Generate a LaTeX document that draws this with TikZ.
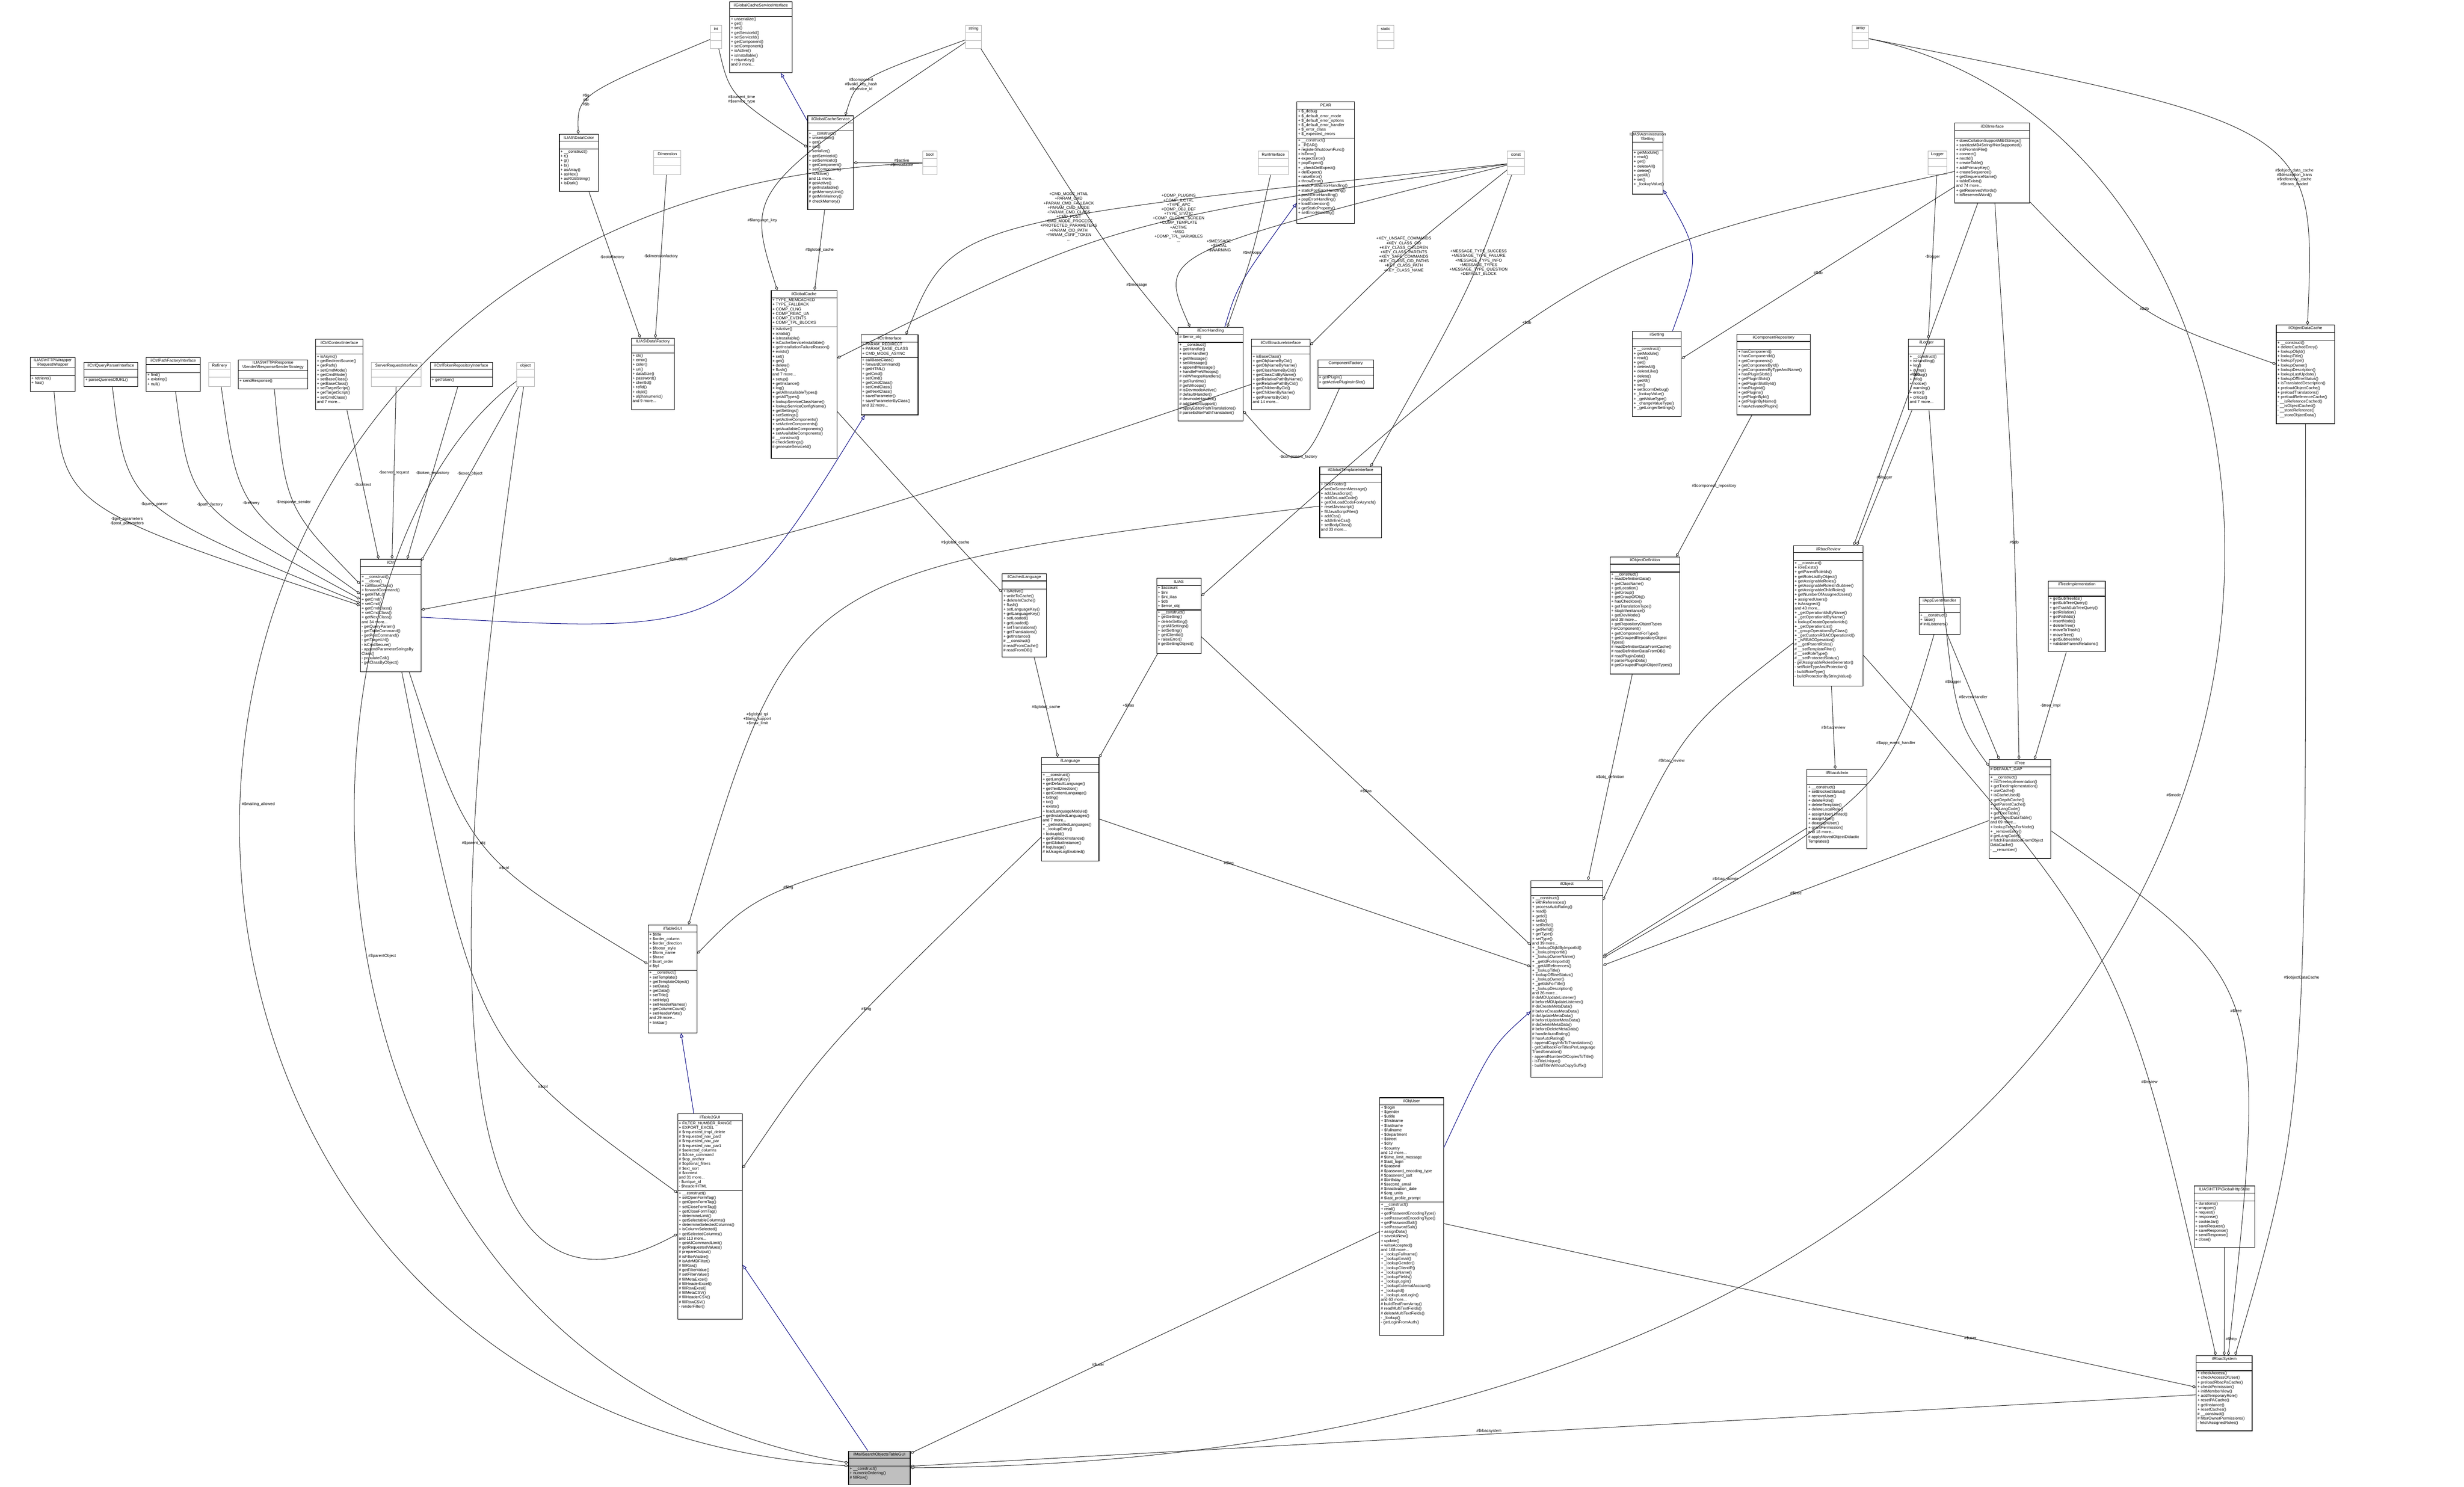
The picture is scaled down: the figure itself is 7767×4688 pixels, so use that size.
\documentclass[tikz,border=0pt]{standalone}
\usepackage{fontspec}
\setmainfont{Liberation Sans}
\usetikzlibrary{arrows.meta,fit,calc}

\tikzset{
  umlfont/.style={font=\fontsize{3.6}{4.06}\selectfont},
  clsbox/.style={draw=black,fill=white,inner sep=0pt,line width=0.5pt},
  clsbox sep/.style={draw=black,line width=0.5pt},
  typebox/.style={draw=gray!60,fill=white,inner sep=0pt,line width=0.4pt},
  typebox sep/.style={draw=gray!60,line width=0.4pt},
  mainbox/.style={draw=black,fill=gray!50,inner sep=0pt,line width=0.6pt},
  mainbox sep/.style={draw=black,line width=0.6pt},
  clstitle/.style={umlfont,align=center,inner sep=0.03cm,minimum height=0.22cm},
  clstext/.style={umlfont,align=left,inner sep=0pt},
  agg/.style={draw=black!85,line width=0.45pt,-{Diamond[open,length=4pt,width=2.6pt]}},
  inh/.style={draw=blue!50!black,line width=0.45pt,-{Triangle[open,length=4pt,width=3pt]}},
  elbl/.style={umlfont,align=center,inner sep=1pt}
}

% class box: [style] name, corner, corner, title, attribute rows, attributes, methods
\newcommand{\umlcls}[8][clsbox]{%
  \node[#1, fit={#3 #4}] (#2) {};
  \node[clstitle, anchor=north] (#2-t) at (#2.north) {#5};
  \draw[#1 sep] (#2-t.south -| #2.west) -- (#2-t.south -| #2.east);
  \node[clstext, anchor=north west] at ([xshift=0.04cm,yshift=-0.02cm]#2-t.south -| #2.west) {#7};
  \pgfmathsetmacro\clsgap{max(#6*0.143+0.06,0.25)}
  \draw[#1 sep] ([yshift=-\clsgap cm]#2-t.south -| #2.west) -- ([yshift=-\clsgap cm]#2-t.south -| #2.east);
  \node[clstext, anchor=north west] at ([xshift=0.04cm,yshift=-\clsgap cm-0.02cm]#2-t.south -| #2.west) {#8};
}

\begin{document}
\catcode`\_=12
\begin{tikzpicture}[x=0.01cm,y=-0.01cm]
\useasboundingbox[fill=white] (0,0) rectangle (7767,4688);

% plain types
\umlcls[typebox]{int}{(2239,80)}{(2275,153)}{int}{0}{}{}
\umlcls[typebox]{string}{(3043,80)}{(3094,153)}{string}{0}{}{}
\umlcls[typebox]{static}{(4341,80)}{(4394,153)}{static}{0}{}{}
\umlcls[typebox]{array}{(5839,80)}{(5890,153)}{array}{0}{}{}
\umlcls[typebox]{bool}{(2908,476)}{(2953,551)}{bool}{0}{}{}
\umlcls[typebox]{runiface}{(3966,476)}{(4061,551)}{RunInterface}{0}{}{}
\umlcls[typebox]{const}{(4751,476)}{(4806,551)}{const}{0}{}{}
\umlcls[typebox]{logger}{(6077,476)}{(6137,551)}{Logger}{0}{}{}
\umlcls[typebox]{dimension}{(2061,474)}{(2146,551)}{Dimension}{0}{}{}
\umlcls[typebox]{refinery}{(658,1142)}{(726,1219)}{Refinery}{0}{}{}
\umlcls[typebox]{srvrequest}{(1171,1142)}{(1328,1219)}{ServerRequestInterface}{0}{}{}
\umlcls[typebox]{object}{(1628,1142)}{(1685,1219)}{object}{0}{}{}

% top row classes
\umlcls{cachesrvif}{(2300,5)}{(2497,229)}{ilGlobalCacheServiceInterface}{0}{}{+ unserialize()\\+ get()\\+ set()\\+ getServiceId()\\+ setServiceId()\\+ getComponent()\\+ setComponent()\\+ isActive()\\+ isInstallable()\\+ returnKey()\\and 9 more...}
\umlcls{cachesrv}{(2546,365)}{(2690,661)}{ilGlobalCacheService}{0}{}{+ __construct()\\+ unserialize()\\+ get()\\+ set()\\+ serialize()\\+ getServiceId()\\+ setServiceId()\\+ getComponent()\\+ setComponent()\\+ isActive()\\and 11 more...\\\# getActive()\\\# getInstallable()\\\# getMemoryLimit()\\\# getMinMemory()\\\# checkMemory()}
\umlcls{color}{(1763,423)}{(1886,604)}{ILIAS\textbackslash Data\textbackslash Color}{0}{}{+ __construct()\\+ r()\\+ g()\\+ b()\\+ asArray()\\+ asHex()\\+ asRGBString()\\+ isDark()}
\umlcls{pear}{(4088,321)}{(4270,704)}{PEAR}{6}{+ \$_debug\\+ \$_default_error_mode\\+ \$_default_error_options\\+ \$_default_error_handler\\+ \$_error_class\\+ \$_expected_errors}{+ __construct()\\+ _PEAR()\\+ registerShutdownFunc()\\+ isError()\\+ expectError()\\+ popExpect()\\+ _checkDelExpect()\\+ delExpect()\\+ raiseError()\\+ throwError()\\+ staticPushErrorHandling()\\+ staticPopErrorHandling()\\+ pushErrorHandling()\\+ popErrorHandling()\\+ loadExtension()\\+ getStaticProperty()\\+ setErrorHandling()}
\umlcls{admsetting}{(5146,416)}{(5242,612)}{ILIAS\textbackslash Administration\\\textbackslash Setting}{0}{}{+ getModule()\\+ read()\\+ get()\\+ deleteAll()\\+ delete()\\+ getAll()\\+ set()\\+ _lookupValue()}
\umlcls{dbiface}{(6162,388)}{(6398,640)}{ilDBInterface}{0}{}{+ doesCollationSupportMB4Strings()\\+ sanitizeMB4StringIfNotSupported()\\+ initFromIniFile()\\+ connect()\\+ nextId()\\+ createTable()\\+ addPrimaryKey()\\+ createSequence()\\+ getSequenceName()\\+ tableExists()\\and 74 more...\\+ getReservedWords()\\+ isReservedWord()}

% second row classes
\umlcls{reqwrapper}{(95,1127)}{(237,1234)}{ILIAS\textbackslash HTTP\textbackslash Wrapper\\\textbackslash RequestWrapper}{0}{}{+ retrieve()\\+ has()}
\umlcls{queryparser}{(265,1142)}{(434,1219)}{ilCtrlQueryParserInterface}{0}{}{+ parseQueriesOfURL()}
\umlcls{pathfactory}{(461,1127)}{(632,1234)}{ilCtrlPathFactoryInterface}{0}{}{+ find()\\+ existing()\\+ null()}
\umlcls{respsender}{(751,1135)}{(970,1226)}{ILIAS\textbackslash HTTP\textbackslash Response\\\textbackslash Sender\textbackslash ResponseSenderStrategy}{0}{}{+ sendResponse()}
\umlcls{ctrlcontext}{(995,1069)}{(1144,1292)}{ilCtrlContextInterface}{0}{}{+ isAsync()\\+ getRedirectSource()\\+ getPath()\\+ setCmdMode()\\+ getCmdMode()\\+ setBaseClass()\\+ getBaseClass()\\+ setTargetScript()\\+ getTargetScript()\\+ setCmdClass()\\and 7 more...}
\umlcls{tokenrepo}{(1357,1142)}{(1552,1219)}{ilCtrlTokenRepositoryInterface}{0}{}{+ getToken()}
\umlcls{datafactory}{(1990,1066)}{(2126,1292)}{ILIAS\textbackslash Data\textbackslash Factory}{0}{}{+ ok()\\+ error()\\+ color()\\+ uri()\\+ dataSize()\\+ password()\\+ clientId()\\+ refId()\\+ objId()\\+ alphanumeric()\\and 9 more...}
\umlcls{globalcache}{(2431,916)}{(2638,1446)}{ilGlobalCache}{6}{+ TYPE_MEMCACHED\\+ TYPE_FALLBACK\\+ COMP_CLNG\\+ COMP_RBAC_UA\\+ COMP_EVENTS\\+ COMP_TPL_BLOCKS}{+ isActive()\\+ isValid()\\+ isInstallable()\\+ isCacheServiceInstallable()\\+ getInstallationFailureReason()\\+ exists()\\+ set()\\+ get()\\+ delete()\\+ flush()\\and 7 more...\\+ setup()\\+ getInstance()\\+ log()\\+ getAllInstallableTypes()\\+ getAllTypes()\\+ lookupServiceClassName()\\+ lookupServiceConfigName()\\+ getSettings()\\+ setSettings()\\+ getActiveComponents()\\+ setActiveComponents()\\+ getAvailableComponents()\\+ setAvailableComponents()\\\# __construct()\\\# checkSettings()\\\# generateServiceId()}
\umlcls{ctrliface}{(2714,1056)}{(2894,1308)}{ilCtrlInterface}{3}{+ PARAM_REDIRECT\\+ PARAM_BASE_CLASS\\+ CMD_MODE_ASYNC}{+ callBaseClass()\\+ forwardCommand()\\+ getHTML()\\+ getCmd()\\+ setCmd()\\+ getCmdClass()\\+ setCmdClass()\\+ getNextClass()\\+ saveParameter()\\+ saveParameterByClass()\\and 32 more...}
\umlcls{errhandling}{(3714,1032)}{(3918,1328)}{ilErrorHandling}{1}{\# \$error_obj}{+ __construct()\\+ getHandler()\\+ errorHandler()\\+ getMessage()\\+ setMessage()\\+ appendMessage()\\+ handlePreWhoops()\\\# initWhoopsHandlers()\\\# getRuntime()\\\# getWhoops()\\\# isDevmodeActive()\\\# defaultHandler()\\\# devmodeHandler()\\\# addEditorSupport()\\\# applyEditorPathTranslations()\\\# parseEditorPathTranslation()}
\umlcls{ctrlstruct}{(3945,1069)}{(4129,1292)}{ilCtrlStructureInterface}{0}{}{+ isBaseClass()\\+ getObjNameByCid()\\+ getObjNameByName()\\+ getClassNameByCid()\\+ getClassCidByName()\\+ getRelativePathByName()\\+ getRelativePathByCid()\\+ getChildrenByCid()\\+ getChildrenByName()\\+ getParentsByCid()\\and 14 more...}
\umlcls{compfactory}{(4154,1135)}{(4330,1224)}{ComponentFactory}{0}{}{+ getPlugin()\\+ getActivePluginsInSlot()}
\umlcls{setting}{(5146,1045)}{(5300,1314)}{ilSetting}{0}{}{+ __construct()\\+ getModule()\\+ read()\\+ get()\\+ deleteAll()\\+ deleteLike()\\+ delete()\\+ getAll()\\+ set()\\+ setScormDebug()\\+ _lookupValue()\\+ _getValueType()\\+ _changeValueType()\\+ _getLongerSettings()}
\umlcls{comprepo}{(5475,1054)}{(5706,1308)}{ilComponentRepository}{0}{}{+ hasComponent()\\+ hasComponentId()\\+ getComponents()\\+ getComponentById()\\+ getComponentByTypeAndName()\\+ hasPluginSlotId()\\+ getPluginSlots()\\+ getPluginSlotById()\\+ hasPluginId()\\+ getPlugins()\\+ getPluginById()\\+ getPluginByName()\\+ hasActivatedPlugin()}
\umlcls{illogger}{(6016,1069)}{(6129,1292)}{ilLogger}{0}{}{+ __construct()\\+ isHandling()\\+ log()\\+ dump()\\+ debug()\\+ info()\\+ notice()\\+ warning()\\+ error()\\+ critical()\\and 7 more...}
\umlcls{objdatacache}{(7175,1025)}{(7359,1336)}{ilObjectDataCache}{0}{}{+ __construct()\\+ deleteCachedEntry()\\+ lookupObjId()\\+ lookupTitle()\\+ lookupType()\\+ lookupOwner()\\+ lookupDescription()\\+ lookupLastUpdate()\\+ lookupOfflineStatus()\\+ isTranslatedDescription()\\+ preloadObjectCache()\\+ preloadTranslations()\\+ preloadReferenceCache()\\- __isReferenceCached()\\- __isObjectCached()\\- __storeReference()\\- __storeObjectData()}
\umlcls{tpliface}{(4160,1472)}{(4355,1695)}{ilGlobalTemplateInterface}{0}{}{+ hideFooter()\\+ setOnScreenMessage()\\+ addJavaScript()\\+ addOnLoadCode()\\+ getOnLoadCodeForAsynch()\\+ resetJavascript()\\+ fillJavaScriptFiles()\\+ addCss()\\+ addInlineCss()\\+ setBodyClass()\\and 33 more...}

% middle classes
\umlcls{ctrl}{(1136,1763)}{(1327,2118)}{ilCtrl}{0}{}{+ __construct()\\+ __clone()\\+ callBaseClass()\\+ forwardCommand()\\+ getHTML()\\+ getCmd()\\+ setCmd()\\+ getCmdClass()\\+ setCmdClass()\\+ getNextClass()\\and 34 more...\\- getQueryParam()\\- getTableCommand()\\- getPostCommand()\\- getTargetUrl()\\- isCmdSecure()\\- appendParameterStringsBy\\Class()\\- populateCall()\\- getClassByObject()}
\umlcls{cachedlang}{(3159,1809)}{(3298,2072)}{ilCachedLanguage}{0}{}{+ isActive()\\+ writeToCache()\\+ deleteInCache()\\+ flush()\\+ setLanguageKey()\\+ getLanguageKey()\\+ setLoaded()\\+ getLoaded()\\+ setTranslations()\\+ getTranslations()\\+ getInstance()\\\# __construct()\\\# readFromCache()\\\# readFromDB()}
\umlcls{ilias}{(3646,1823)}{(3786,2060)}{ILIAS}{5}{+ \$account\\+ \$ini\\+ \$ini_ilias\\+ \$db\\+ \$error_obj}{+ __construct()\\+ getSetting()\\+ deleteSetting()\\+ getAllSettings()\\+ setSetting()\\+ getClientId()\\+ raiseError()\\\# getSettingObject()}
\umlcls{objdef}{(5075,1756)}{(5295,2125)}{ilObjectDefinition}{0}{}{+ __construct()\\+ readDefinitionData()\\+ getClassName()\\+ getLocation()\\+ getGroup()\\+ getGroupOfObj()\\+ hasCheckbox()\\+ getTranslationType()\\+ stopInheritance()\\+ getDevMode()\\and 38 more...\\+ getRepositoryObjectTypes\\ForComponent()\\+ getComponentForType()\\+ getGroupedRepositoryObject\\Types()\\\# readDefinitionDataFromCache()\\\# readDefinitionDataFromDB()\\\# readPluginData()\\\# parsePluginData()\\\# getGroupedPluginObjectTypes()}
\umlcls{rbacreview}{(5653,1720)}{(5873,2163)}{ilRbacReview}{0}{}{+ __construct()\\+ roleExists()\\+ getParentRoleIds()\\+ getRoleListByObject()\\+ getAssignableRoles()\\+ getAssignableRolesInSubtree()\\+ getAssignableChildRoles()\\+ getNumberOfAssignedUsers()\\+ assignedUsers()\\+ isAssigned()\\and 43 more...\\+ _getOperationIdsByName()\\+ _getOperationIdByName()\\+ lookupCreateOperationIds()\\+ _getOperationList()\\+ _groupOperationsByClass()\\+ _getCustomRBACOperationId()\\+ _isRBACOperation()\\\# __getParentRoles()\\\# __setTemplateFilter()\\\# __setRoleType()\\\# __setProtectedStatus()\\- getAssignableRolesGenerator()\\- setRoleTypeAndProtection()\\- buildRoleType()\\- buildProtectionByStringValue()}
\umlcls{appevent}{(6049,1884)}{(6178,2000)}{ilAppEventHandler}{0}{}{+ __construct()\\+ raise()\\\# initListeners()}
\umlcls{treeimpl}{(6457,1832)}{(6636,2055)}{ilTreeImplementation}{0}{}{+ getSubTreeIds()\\+ getSubTreeQuery()\\+ getTrashSubTreeQuery()\\+ getRelation()\\+ getPathIds()\\+ insertNode()\\+ deleteTree()\\+ moveToTrash()\\+ moveTree()\\+ getSubtreeInfo()\\+ validateParentRelations()}
\umlcls{language}{(3283,2388)}{(3464,2714)}{ilLanguage}{0}{}{+ __construct()\\+ getLangKey()\\+ getDefaultLanguage()\\+ getTextDirection()\\+ getContentLanguage()\\+ txtlng()\\+ txt()\\+ exists()\\+ loadLanguageModule()\\+ getInstalledLanguages()\\and 7 more...\\+ _getInstalledLanguages()\\+ _lookupEntry()\\+ lookupId()\\+ getFallbackInstance()\\+ getGlobalInstance()\\\# logUsage()\\\# isUsageLogEnabled()}
\umlcls{tree}{(6270,2395)}{(6464,2706)}{ilTree}{1}{\# DEFAULT_GAP}{+ __construct()\\+ initTreeImplementation()\\+ getTreeImplementation()\\+ useCache()\\+ isCacheUsed()\\+ getDepthCache()\\+ getParentCache()\\+ initLangCode()\\+ getTreeTable()\\+ getObjectDataTable()\\and 69 more...\\+ lookupTreesForNode()\\+ _removeEntry()\\\# getLangCode()\\\# fetchTranslationFromObject\\DataCache()\\- __renumber()}
\umlcls{rbacadmin}{(5696,2426)}{(5885,2676)}{ilRbacAdmin}{0}{}{+ __construct()\\+ setBlockedStatus()\\+ removeUser()\\+ deleteRole()\\+ deleteTemplate()\\+ deleteLocalRole()\\+ assignUserLimited()\\+ assignUser()\\+ deassignUser()\\+ grantPermission()\\and 18 more...\\\# applyMovedObjectDidactic\\Templates()}
\umlcls{ilobject}{(4826,2776)}{(5052,3396)}{ilObject}{0}{}{+ __construct()\\+ withReferences()\\+ processAutoRating()\\+ read()\\+ getId()\\+ setId()\\+ setRefId()\\+ getRefId()\\+ getType()\\+ setType()\\and 39 more...\\+ _lookupObjIdByImportId()\\+ _lookupImportId()\\+ _lookupOwnerName()\\+ _getIdForImportId()\\+ _getAllReferences()\\+ _lookupTitle()\\+ lookupOfflineStatus()\\+ _lookupOwner()\\+ _getIdsForTitle()\\+ _lookupDescription()\\and 26 more...\\\# doMDUpdateListener()\\\# beforeMDUpdateListener()\\\# doCreateMetaData()\\\# beforeCreateMetaData()\\\# doUpdateMetaData()\\\# beforeUpdateMetaData()\\\# doDeleteMetaData()\\\# beforeDeleteMetaData()\\\# handleAutoRating()\\\# hasAutoRating()\\- appendCopyInfoToTranslations()\\- getCallbackForTitlesPerLanguage\\Transformation()\\- appendNumberOfCopiesToTitle()\\- isTitleUnique()\\- buildTitleWithoutCopySuffix()}
\umlcls{tablegui}{(2043,2916)}{(2197,3256)}{ilTableGUI}{8}{+ \$title\\+ \$order_column\\+ \$order_direction\\+ \$footer_style\\+ \$form_name\\+ \$base\\\# \$sort_order\\\# \$tpl}{+ __construct()\\+ setTemplate()\\+ getTemplateObject()\\+ setData()\\+ getData()\\+ setTitle()\\+ setHelp()\\+ setHeaderNames()\\+ getColumnCount()\\+ setHeaderVars()\\and 29 more...\\+ linkbar()}

% lower classes
\umlcls{table2gui}{(2136,3511)}{(2340,4159)}{ilTable2GUI}{15}{+ FILTER_NUMBER_RANGE\\+ EXPORT_EXCEL\\\# \$requested_tmpl_delete\\\# \$requested_nav_par2\\\# \$requested_nav_par\\\# \$requested_nav_par1\\\# \$selected_columns\\\# \$close_command\\\# \$top_anchor\\\# \$optional_filters\\\# \$ext_sort\\\# \$context\\and 31 more...\\- \$unique_id\\- \$headerHTML}{+ __construct()\\+ setOpenFormTag()\\+ getOpenFormTag()\\+ setCloseFormTag()\\+ getCloseFormTag()\\+ determineLimit()\\+ getSelectableColumns()\\+ determineSelectedColumns()\\+ isColumnSelected()\\+ getSelectedColumns()\\and 113 more...\\+ getAllCommandLimit()\\\# getRequestedValues()\\\# prepareOutput()\\\# isFilterVisible()\\\# isAdvMDFilter()\\\# fillRow()\\\# getFilterValue()\\\# setFilterValue()\\\# fillMetaExcel()\\\# fillHeaderExcel()\\\# fillRowExcel()\\\# fillMetaCSV()\\\# fillHeaderCSV()\\\# fillRowCSV()\\- renderFilter()}
\umlcls{objuser}{(4349,3461)}{(4550,4210)}{ilObjUser}{21}{+ \$login\\+ \$gender\\+ \$utitle\\+ \$firstname\\+ \$lastname\\+ \$fullname\\+ \$department\\+ \$street\\+ \$city\\+ \$country\\and 12 more...\\\# \$time_limit_message\\\# \$last_login\\\# \$passwd\\\# \$password_encoding_type\\\# \$password_salt\\\# \$birthday\\\# \$second_email\\\# \$inactivation_date\\\# \$org_units\\\# \$last_profile_prompt}{+ __construct()\\+ read()\\+ getPasswordEncodingType()\\+ setPasswordEncodingType()\\+ getPasswordSalt()\\+ setPasswordSalt()\\+ assignData()\\+ saveAsNew()\\+ update()\\+ writeAccepted()\\and 168 more...\\+ _lookupFullname()\\+ _lookupEmail()\\+ _lookupGender()\\+ _lookupClientIP()\\+ _lookupName()\\+ _lookupFields()\\+ _lookupLogin()\\+ _lookupExternalAccount()\\+ _lookupId()\\+ _lookupLastLogin()\\and 63 more...\\\# buildTextFromArray()\\\# readMultiTextFields()\\\# deleteMultiTextFields()\\- _lookup()\\- getLoginFromAuth()}
\umlcls{httpstate}{(6916,3739)}{(7107,3933)}{ILIAS\textbackslash HTTP\textbackslash GlobalHttpState}{0}{}{+ durations()\\+ wrapper()\\+ request()\\+ response()\\+ cookieJar()\\+ saveRequest()\\+ saveResponse()\\+ sendResponse()\\+ close()}
\umlcls{rbacsystem}{(6923,4274)}{(7099,4511)}{ilRbacSystem}{0}{}{+ checkAccess()\\+ checkAccessOfUser()\\+ preloadRbacPaCache()\\+ checkPermission()\\+ initMemberView()\\+ addTemporaryRole()\\+ resetPACache()\\+ getInstance()\\+ resetCaches()\\\# __construct()\\\# filterOwnerPermissions()\\- fetchAssignedRoles()}
\umlcls[mainbox]{mailsearch}{(2675,4575)}{(2869,4681)}{ilMailSearchObjectsTableGUI}{0}{}{+ __construct()\\+ numericOrdering()\\\# fillRow()}

% inheritance
\draw[inh] (cachesrv) -- (cachesrvif);
\draw[inh] (ctrl) .. controls (2300,2000) .. (ctrliface);
\draw[inh] (errhandling) .. controls (3900,900) .. (pear);
\draw[inh] (setting) .. controls (5360,800) .. (admsetting);
\draw[inh] (objuser) .. controls (4700,3300) .. (ilobject);
\draw[inh] (table2gui) -- (tablegui);
\draw[inh] (mailsearch) -- (table2gui);

% members
\draw[agg] (int) .. controls (2300,300) .. node[elbl,pos=0.55]{\#\$current_time\\\#\$service_type} (cachesrv);
\draw[agg] (string) .. controls (2700,250) .. node[elbl,pos=0.6]{\#\$component\\\#\$valid_key_hash\\\#\$service_id} (cachesrv);
\draw[agg] (bool) -- node[elbl,pos=0.3]{\#\$active\\\#\$installable} (cachesrv);
\draw[agg] (int) .. controls (1820,300) .. node[elbl,pos=0.6]{\#\$g\\\#\$r\\\#\$b} (color);
\draw[agg] (color) -- node[elbl,pos=0.45]{-\$colorfactory} (datafactory);
\draw[agg] (dimension) -- node[elbl,pos=0.5]{-\$dimensionfactory} (datafactory);
\draw[agg] (cachesrv) -- node[elbl,pos=0.5]{\#\$global_cache} (globalcache);
\draw[agg] (string) .. controls (2350,600) .. node[elbl,pos=0.7]{\#\$language_key} (globalcache);
\draw[agg] (globalcache) .. controls (3000,1700) .. node[elbl,pos=0.6]{\#\$global_cache} (cachedlang);
\draw[agg] (cachedlang) -- node[elbl,pos=0.5]{\#\$global_cache} (language);
\draw[agg] (const) .. controls (3000,700) .. node[elbl,pos=0.4]{+CMD_MODE_HTML\\+PARAM_CMD\\+PARAM_CMD_FALLBACK\\+PARAM_CMD_MODE\\+PARAM_CMD_CLASS\\+CMD_POST\\+CMD_MODE_PROCESS\\+PROTECTED_PARAMETERS\\+PARAM_CID_PATH\\+PARAM_CSRF_TOKEN\\...} (ctrliface);
\draw[agg] (const) .. controls (3500,700) .. node[elbl,pos=0.4]{+COMP_PLUGINS\\+COMP_ILCTRL\\+TYPE_APC\\+COMP_OBJ_DEF\\+TYPE_STATIC\\+COMP_GLOBAL_SCREEN\\+COMP_TEMPLATE\\+ACTIVE\\+MSG\\+COMP_TPL_VARIABLES\\...} (globalcache);
\draw[agg] (const) .. controls (4420,800) .. node[elbl,pos=0.5]{+KEY_UNSAFE_COMMANDS\\+KEY_CLASS_CID\\+KEY_CLASS_CHILDREN\\+KEY_CLASS_PARENTS\\+KEY_SAFE_COMMANDS\\+KEY_CLASS_CID_PATHS\\+KEY_CLASS_PATH\\+KEY_CLASS_NAME} (ctrlstruct);
\draw[agg] (const) .. controls (4640,900) .. node[elbl,pos=0.35]{+MESSAGE_TYPE_SUCCESS\\+MESSAGE_TYPE_FAILURE\\+MESSAGE_TYPE_INFO\\+MESSAGE_TYPES\\+MESSAGE_TYPE_QUESTION\\+DEFAULT_BLOCK} (tpliface);
\draw[agg] (string) .. controls (3500,800) .. node[elbl,pos=0.75]{\#\$message} (errhandling);
\draw[agg] (const) .. controls (3650,800) .. node[elbl,pos=0.45]{+\$MESSAGE\\+\$FATAL\\+\$WARNING} (errhandling);
\draw[agg] (runiface) .. controls (3950,800) .. node[elbl,pos=0.5]{\#\$whoops} (errhandling);
\draw[agg] (compfactory) .. controls (4100,1500) .. node[elbl,pos=0.5]{-\$component_factory} (errhandling);

% controller members
\draw[agg] (reqwrapper) .. controls (200,1600) .. node[elbl,pos=0.6]{-\$get_parameters\\-\$post_parameters} (ctrl);
\draw[agg] (queryparser) .. controls (400,1600) .. node[elbl,pos=0.5]{-\$query_parser} (ctrl);
\draw[agg] (pathfactory) .. controls (600,1600) .. node[elbl,pos=0.5]{-\$path_factory} (ctrl);
\draw[agg] (refinery) .. controls (750,1600) .. node[elbl,pos=0.5]{-\$refinery} (ctrl);
\draw[agg] (respsender) .. controls (900,1600) .. node[elbl,pos=0.5]{-\$response_sender} (ctrl);
\draw[agg] (ctrlcontext) -- node[elbl,pos=0.5]{-\$context} (ctrl);
\draw[agg] (srvrequest) -- node[elbl,pos=0.5]{-\$server_request} (ctrl);
\draw[agg] (tokenrepo) -- node[elbl,pos=0.5]{-\$token_repository} (ctrl);
\draw[agg] (object) -- node[elbl,pos=0.5]{-\$exec_object} (ctrl);
\draw[agg] (ctrlstruct) .. controls (2500,1700) .. node[elbl,pos=0.7]{-\$structure} (ctrl);

% table members
\draw[agg] (ctrl) .. controls (1480,2700) .. node[elbl,pos=0.6]{\#\$ctrl} (tablegui);
\draw[agg] (ctrl) .. controls (1500,3300) .. node[elbl,pos=0.7]{\#\$ctrl} (table2gui);
\draw[agg] (tpliface) .. controls (2500,1800) .. node[elbl,pos=0.75]{+\$global_tpl\\+\$lang_support\\+\$max_limit} (tablegui);
\draw[agg] (language) .. controls (2400,2800) .. node[elbl,pos=0.5]{\#\$lng} (tablegui);
\draw[agg] (language) .. controls (2600,3300) .. node[elbl,pos=0.4]{\#\$lng} (table2gui);
\draw[agg] (object) .. controls (1380,3000) and (1380,4300) .. node[elbl,pos=0.3]{\#\$parent_obj} (table2gui);

% object members
\draw[agg] (ilias) -- node[elbl,pos=0.5]{+\$ilias} (language);
\draw[agg] (ilias) -- node[elbl,pos=0.5]{\#\$ilias} (ilobject);
\draw[agg] (dbiface) .. controls (5000,800) .. node[elbl,pos=0.6]{+\$db} (ilias);
\draw[agg] (dbiface) -- node[elbl,pos=0.5]{\#\$db} (setting);
\draw[agg] (dbiface) -- node[elbl,pos=0.5]{\#\$db} (rbacreview);
\draw[agg] (dbiface) .. controls (6750,1000) .. node[elbl,pos=0.5]{\#\$db} (objdatacache);
\draw[agg] (dbiface) .. controls (6350,1600) .. node[elbl,pos=0.6]{\#\$db} (tree);
\draw[agg] (logger) -- node[elbl,pos=0.5]{-\$logger} (illogger);
\draw[agg] (illogger) -- node[elbl,pos=0.5]{\#\$logger} (rbacreview);
\draw[agg] (illogger) .. controls (6150,2250) .. node[elbl,pos=0.5]{\#\$logger} (tree);
\draw[agg] (comprepo) -- node[elbl,pos=0.5]{\#\$component_repository} (objdef);
\draw[agg] (objdef) -- node[elbl,pos=0.5]{\#\$obj_definition} (ilobject);
\draw[agg] (language) -- node[elbl,pos=0.3]{\#\$lng} (ilobject);
\draw[agg] (array) .. controls (7300,400) .. node[elbl,pos=0.65]{\#\$object_data_cache\\\#\$description_trans\\\#\$reference_cache\\\#\$trans_loaded} (objdatacache);
\draw[agg] (rbacreview) -- node[elbl,pos=0.5]{\#\$rbacreview} (rbacadmin);
\draw[agg] (rbacreview) .. controls (5300,2300) .. node[elbl,pos=0.6]{\#\$rbac_review} (ilobject);
\draw[agg] (rbacadmin) -- node[elbl,pos=0.4]{\#\$rbac_admin} (ilobject);
\draw[agg] (appevent) -- node[elbl,pos=0.5]{\#\$eventHandler} (tree);
\draw[agg] (appevent) .. controls (5950,2500) .. node[elbl,pos=0.3]{\#\$app_event_handler} (ilobject);
\draw[agg] (treeimpl) -- node[elbl,pos=0.5]{-\$tree_impl} (tree);
\draw[agg] (tree) -- node[elbl,pos=0.5]{\#\$tree} (ilobject);
\draw[agg] (tree) .. controls (7150,3100) .. node[elbl,pos=0.5]{\#\$tree} (rbacsystem);
\draw[agg] (rbacreview) .. controls (6700,3000) .. node[elbl,pos=0.7]{\#\$review} (rbacsystem);
\draw[agg] (objdatacache) .. controls (7270,3500) .. node[elbl,pos=0.4]{\#\$objectDataCache} (rbacsystem);
\draw[agg] (httpstate) -- node[elbl,pos=0.85,right]{\#\$http} (rbacsystem);
\draw[agg] (objuser) -- node[elbl,pos=0.7]{\#\$user} (rbacsystem);

% members of the table itself
\draw[agg] (objuser) -- node[elbl,pos=0.6]{\#\$user} (mailsearch);
\draw[agg] (rbacsystem) -- node[elbl,pos=0.55,above]{\#\$rbacsystem} (mailsearch);
\draw[agg] (bool) .. controls (80,600) and (80,4450) .. node[elbl,pos=0.5,right]{\#\$mailing_allowed} (mailsearch);
\draw[agg] (object) .. controls (826,1800) and (826,4300) .. node[elbl,pos=0.5,right]{\#\$parentObject} (mailsearch);
\draw[agg] (array) .. controls (7712,500) and (7712,4600) .. node[elbl,pos=0.5,left]{\#\$mode} (mailsearch);

\end{tikzpicture}
\end{document}
